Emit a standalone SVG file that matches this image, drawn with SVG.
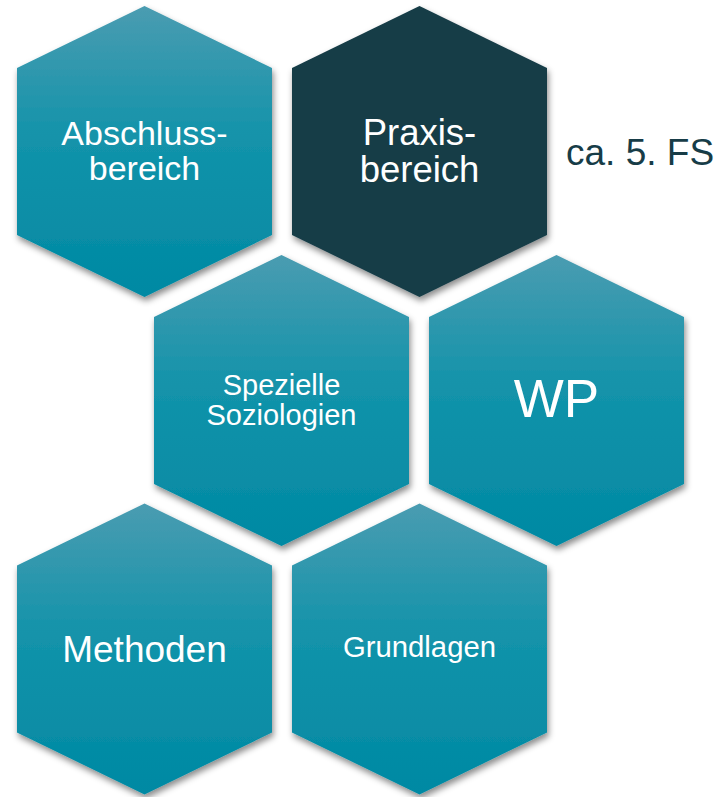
<svg xmlns="http://www.w3.org/2000/svg" width="719" height="797" viewBox="0 0 719 797">
<defs>
<linearGradient id="tealGrad" x1="0" y1="0" x2="0" y2="1">
<stop offset="0" stop-color="#4a9cb1"/>
<stop offset="0.45" stop-color="#1393aa"/>
<stop offset="1" stop-color="#0089a3"/>
</linearGradient>
<filter id="shadow" x="-10%" y="-10%" width="125%" height="125%">
<feDropShadow dx="1.5" dy="4" stdDeviation="3" flood-color="#000" flood-opacity="0.45"/>
</filter>
<path id="hex" d="M0,-145.5 L127.5,-83.5 L127.5,83.5 L0,145.5 L-127.5,83.5 L-127.5,-83.5 Z"/>
</defs>
<style>
.teal { fill: url(#tealGrad); filter: url(#shadow); }
.dark { fill: #173c47; filter: url(#shadow); }
text { font-family: "Liberation Sans", Arial, sans-serif; fill: #ffffff; text-anchor: middle; }
.note { fill: #173c47; text-anchor: start; }
</style>
<rect width="719" height="797" fill="#ffffff"/>
<g id="connectors"></g>
<g id="abschluss">
<use href="#hex" class="teal" x="144.5" y="151.5"/>
<text x="144.5" y="145" font-size="34">Abschluss-</text>
<text x="144.5" y="180" font-size="34">bereich</text>
</g>
<g id="praxis">
<use href="#hex" class="dark" x="419.5" y="151.5"/>
<text x="419.5" y="145" font-size="36.5">Praxis-</text>
<text x="419.5" y="182" font-size="36.5">bereich</text>
</g>
<g id="spezielle">
<use href="#hex" class="teal" x="281.5" y="400.5"/>
<text x="281.5" y="395" font-size="29">Spezielle</text>
<text x="281.5" y="425" font-size="29">Soziologien</text>
</g>
<g id="wp">
<use href="#hex" class="teal" x="556.5" y="400.5"/>
<text x="556.5" y="417" font-size="53">WP</text>
</g>
<g id="methoden">
<use href="#hex" class="teal" x="144.5" y="649"/>
<text x="144.5" y="662" font-size="37">Methoden</text>
</g>
<g id="grundlagen">
<use href="#hex" class="teal" x="419.5" y="649"/>
<text x="419.5" y="657" font-size="29.3">Grundlagen</text>
</g>
<g id="label">
<text class="note" x="566" y="165" font-size="37">ca. 5. FS</text>
</g>
</svg>
